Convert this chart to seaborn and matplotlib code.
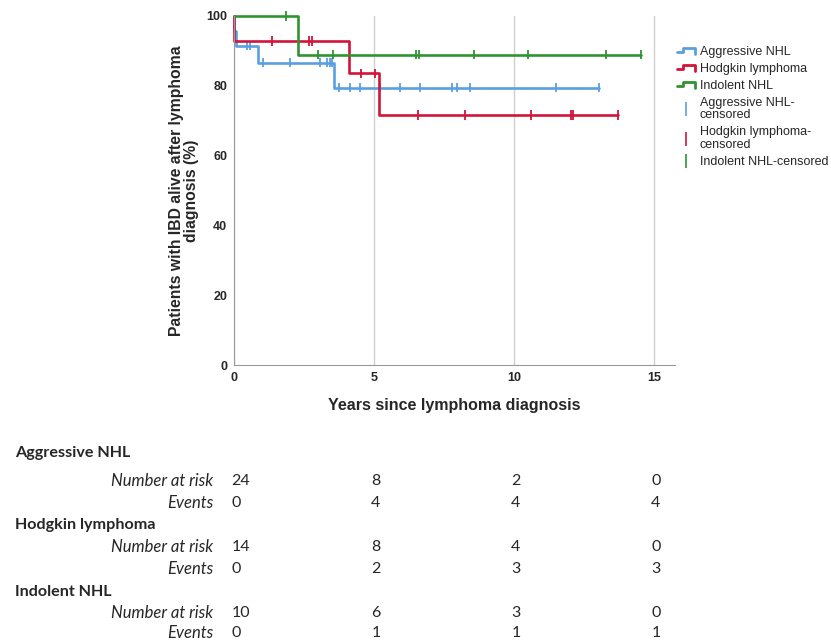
import numpy as np
import pandas as pd
import matplotlib
matplotlib.use('Agg')
import matplotlib.pyplot as plt
import matplotlib.transforms as mtransforms
from matplotlib.legend_handler import HandlerBase
from matplotlib.lines import Line2D
import seaborn as sns

# Follow-up data (years): events and censored times per group
groups = ['Aggressive NHL', 'Hodgkin lymphoma', 'Indolent NHL']
colors = ['#5a9fe0', '#d2143a', '#2e9430']

aggr_event_times = [0.0, 0.08, 0.87, 3.57]
aggr_censor_times = [0.05, 0.45, 0.57, 1.05, 2.0, 3.07, 3.31, 3.43, 3.49, 3.76,
                     4.14, 4.5, 5.2, 5.93, 6.64, 7.8, 7.98, 8.43, 11.5, 13.05]

hodg_event_times = [0.0, 4.12, 5.18]
hodg_censor_times = [1.35, 2.68, 2.77, 4.54, 5.05, 6.58, 8.25, 10.6, 12.04, 12.12, 13.7]

indo_event_times = [2.27]
indo_censor_times = [1.86, 3.01, 3.53, 6.5, 6.6, 8.57, 10.5, 13.3, 14.55]

# Risk table
table_times = [0, 5, 10, 15]
aggr_at_risk = [24, 8, 2, 0]
aggr_events = [0, 4, 4, 4]
hodg_at_risk = [14, 8, 4, 0]
hodg_events = [0, 2, 3, 3]
indo_at_risk = [10, 6, 3, 0]
indo_events = [0, 1, 1, 1]


def km_steps(events, censored):
    # Kaplan-Meier estimate as step path + censor tick positions
    records = sorted([(t, 0) for t in events] + [(t, 1) for t in censored])
    at_risk = len(records)
    s = 100.0
    path = [(0.0, s)]
    ticks = []
    for t, is_cens in records:
        if is_cens:
            ticks.append((t, s))
        else:
            path.append((t, s))
            s = s * (at_risk - 1) / at_risk
            path.append((t, s))
        at_risk -= 1
    path.append((records[-1][0], s))
    return path, ticks


line_frames, tick_frames = [], []
for name, ev, ce in [(groups[0], aggr_event_times, aggr_censor_times),
                     (groups[1], hodg_event_times, hodg_censor_times),
                     (groups[2], indo_event_times, indo_censor_times)]:
    path, ticks = km_steps(ev, ce)
    line_frames.append(pd.DataFrame(path, columns=['time', 'surv']).assign(group=name))
    tick_frames.append(pd.DataFrame(ticks, columns=['time', 'surv']).assign(group=name))
lines_df = pd.concat(line_frames, ignore_index=True)
ticks_df = pd.concat(tick_frames, ignore_index=True)
palette = dict(zip(groups, colors))

sns.set_style('white')
plt.rcParams['font.family'] = ['Liberation Sans', 'DejaVu Sans']

fig = plt.figure(figsize=(8.31, 6.4), dpi=100)
ax = fig.add_axes([234 / 831, 1 - 365 / 640, (675 - 234) / 831, (365 - 16) / 640])

sns.lineplot(data=lines_df, x='time', y='surv', hue='group', palette=palette,
             estimator=None, sort=False, lw=1.9, legend=False, ax=ax, clip_on=False)
sns.scatterplot(data=ticks_df, x='time', y='surv', hue='group', palette=palette,
                marker='|', s=45, linewidth=1.3, legend=False, ax=ax, clip_on=False)

ax.set_xlim(0, 15.75)
ax.set_ylim(0, 100)
ax.set_xticks([0, 5, 10, 15])
ax.set_yticks([0, 20, 40, 60, 80, 100])
ax.grid(axis='x', color='#d0d0d0', lw=1)
ax.grid(axis='y', visible=False)
for side in ['top', 'right']:
    ax.spines[side].set_visible(False)
for side in ['left', 'bottom']:
    ax.spines[side].set_color('#999999')
ax.tick_params(length=0, labelsize=9, pad=5)
for lab in ax.get_xticklabels() + ax.get_yticklabels():
    lab.set_fontweight('bold')
ax.set_xlabel('Years since lymphoma diagnosis', fontsize=11.5, fontweight='bold', labelpad=10)
ax.set_ylabel('Patients with IBD alive after lymphoma\ndiagnosis (%)', fontsize=11.3,
              fontweight='bold', labelpad=5, linespacing=1.0)


class StepHandler(HandlerBase):
    def create_artists(self, legend, orig_handle, xdescent, ydescent, width, height,
                       fontsize, trans):
        x0 = -xdescent
        y0 = -ydescent
        xs = [x0, x0 + 0.35 * width, x0 + 0.35 * width, x0 + width, x0 + width]
        ys = [y0 + 0.35 * height, y0 + 0.35 * height, y0 + 0.8 * height,
              y0 + 0.8 * height, y0 + 0.1 * height]
        ln = Line2D(xs, ys, color=orig_handle.get_color(), lw=2, transform=trans)
        return [ln]


step_handles = [Line2D([], [], color=c) for c in colors]
cens_handles = [Line2D([], [], color=c, marker='|', ls='none', markersize=10, mew=1.2)
                for c in colors]
labels = ['Aggressive NHL', 'Hodgkin lymphoma', 'Indolent NHL',
          'Aggressive NHL-\ncensored', 'Hodgkin lymphoma-\ncensored', 'Indolent NHL-censored']
handler_map = {h: StepHandler() for h in step_handles}
leg = fig.legend(step_handles + cens_handles, labels, handler_map=handler_map,
                 loc='upper left', bbox_to_anchor=(677 / 831, 1 - 46 / 640), frameon=False,
                 fontsize=9, handlelength=1.45, handletextpad=0.35, labelspacing=0.4,
                 borderpad=0, borderaxespad=0)
for t in leg.get_texts():
    t.set_linespacing(1.05)

# Risk table under the chart
tfont = ['Lato', 'DejaVu Sans']
trans = mtransforms.blended_transform_factory(ax.transData, fig.transFigure)
header_y = [453, 525, 592]
row_y = [(481, 503), (547, 569), (613, 633)]
for name, risk, evs, hy, (ry, ey) in [(groups[0], aggr_at_risk, aggr_events, header_y[0], row_y[0]),
                                      (groups[1], hodg_at_risk, hodg_events, header_y[1], row_y[1]),
                                      (groups[2], indo_at_risk, indo_events, header_y[2], row_y[2])]:
    fig.text(15 / 831, 1 - hy / 640, name, fontsize=11.6, fontweight='bold',
             family=tfont, va='center', ha='left')
    for label, vals, yy in [('Number at risk', risk, ry), ('Events', evs, ey)]:
        fy = 1 - yy / 640
        fig.text(213 / 831, fy, label, fontsize=12, style='italic', family=tfont,
                 va='center', ha='right')
        for t, v in zip(table_times, vals):
            fig.text(t - 0.1, fy, str(v), fontsize=11.5, family=tfont, va='center',
                     ha='left', transform=trans)

fig.savefig('out.png', dpi=100)
